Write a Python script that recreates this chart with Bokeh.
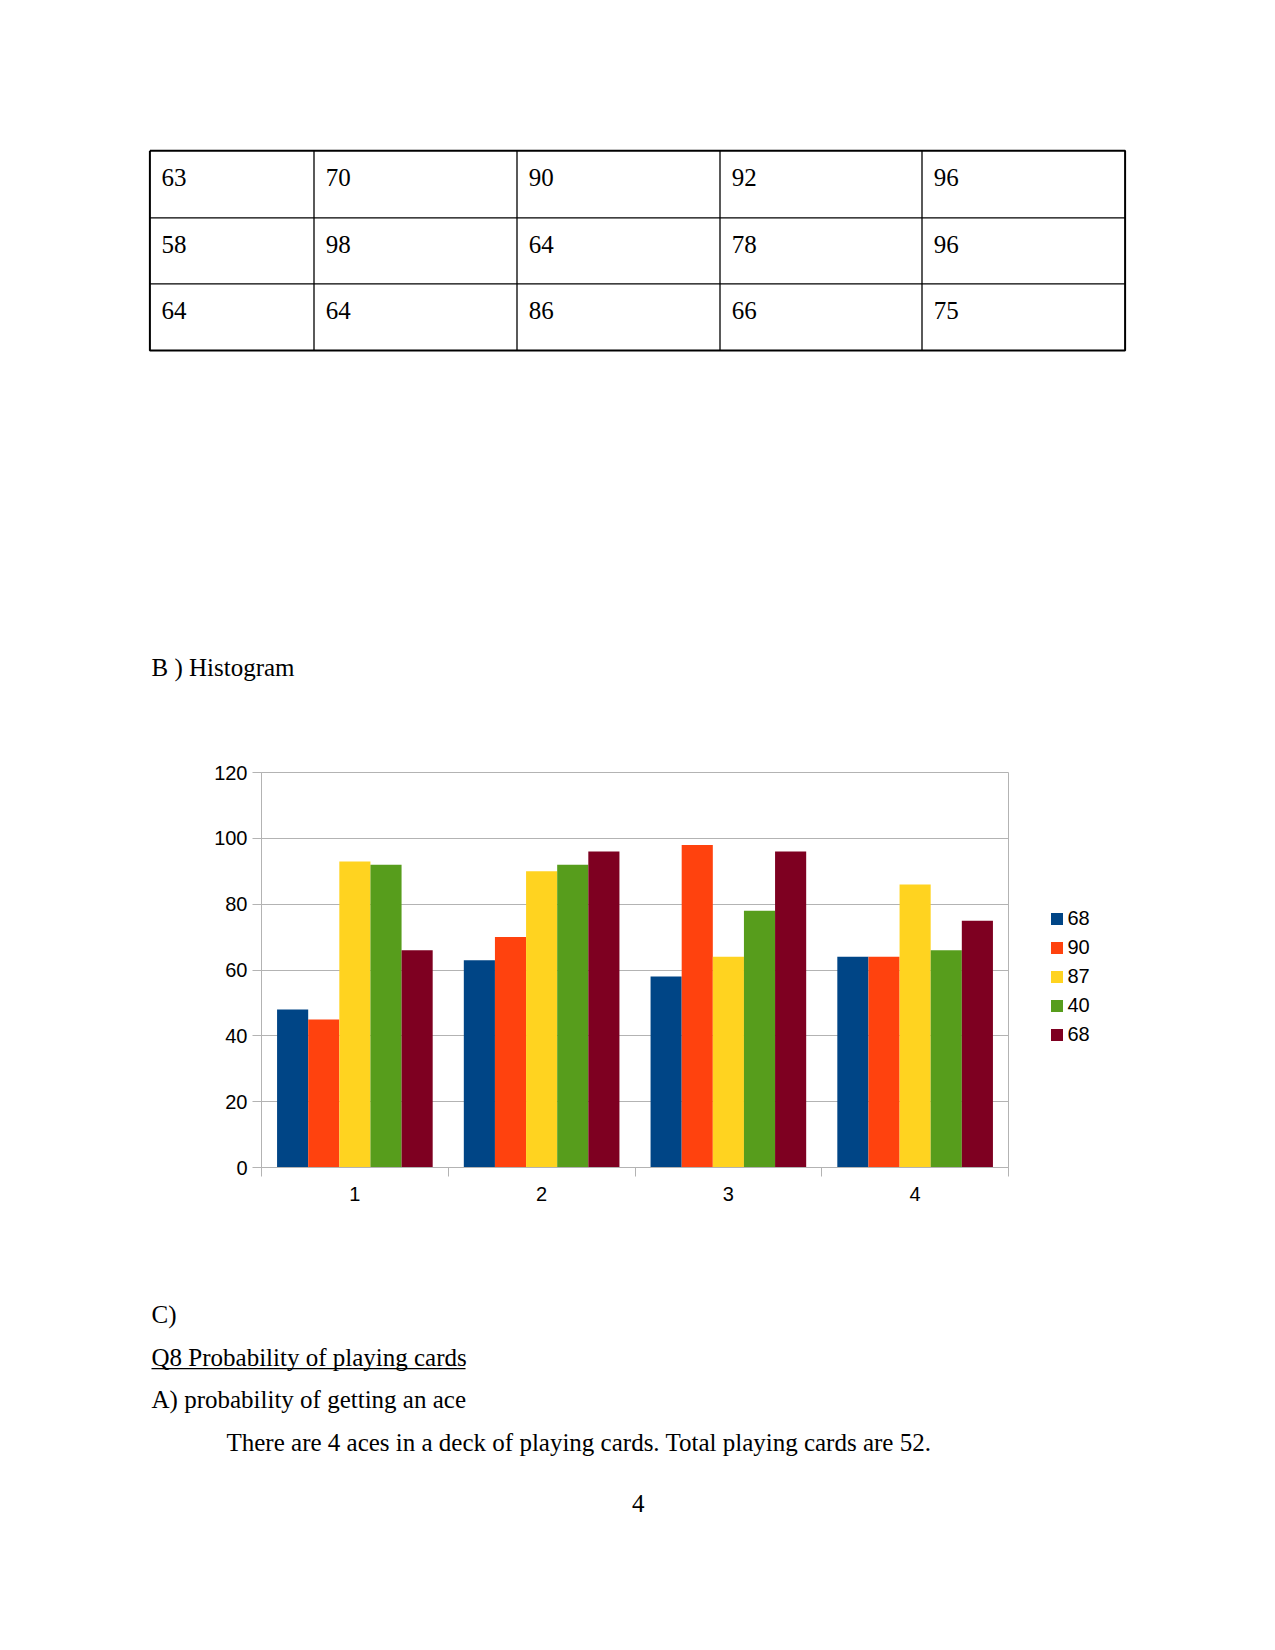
from bokeh.plotting import figure
from bokeh.models import Range1d, FixedTicker, Legend, LegendItem, ColumnDataSource
from bokeh.layouts import column, row
from bokeh.transform import dodge
from bokeh.core.properties import value
from bokeh.embed import file_html
from bokeh.resources import INLINE

# ---------------- data ----------------
table_row1 = [63, 70, 90, 92, 96]
table_row2 = [58, 98, 64, 78, 96]
table_row3 = [64, 64, 86, 66, 75]

categories = [1, 2, 3, 4]
category_labels = ["1", "2", "3", "4"]
series_names = ["68", "90", "87", "40", "68"]
series_1 = [48, 63, 58, 64]
series_2 = [45, 70, 98, 64]
series_3 = [93, 90, 64, 86]
series_4 = [92, 92, 78, 66]
series_5 = [66, 96, 96, 75]
series_colors = ["#004586", "#ff420e", "#ffd320", "#579d1c", "#7e0021"]
y_ticks = [0, 20, 40, 60, 80, 100, 120]

heading_b = "B ) Histogram"
text_lines = ["C)", "Q8 Probability of playing cards", "A) probability of getting an ace",
              "There are 4 aces in a deck of playing cards. Total playing cards are 52."]
page_number = "4"

SERIF = value("Liberation Serif")
SANS = "Liberation Sans"
PAGE_W = 1275
TDY = -9  # baseline correction for text glyphs


def page_fig(y0, y1):
    p = figure(width=PAGE_W, height=y1 - y0, x_range=Range1d(0, PAGE_W),
               y_range=Range1d(y1, y0), output_backend="svg", toolbar_location=None,
               x_axis_location=None, y_axis_location=None,
               min_border_left=0, min_border_right=0, min_border_top=0, min_border_bottom=0)
    p.xgrid.visible = False
    p.ygrid.visible = False
    p.outline_line_color = None
    return p


# ---------------- top part: table + heading ----------------
top = page_fig(0, 700)
col_edges = [149.4, 313.5, 516.5, 719.5, 921.5, 1124.6]
row_edges = [150.3, 217.3, 283.3, 350.0]

for x in col_edges[1:-1]:
    top.line([x, x], [row_edges[0], row_edges[-1]], line_color="black", line_width=1.3)
for y in row_edges[1:-1]:
    top.line([col_edges[0], col_edges[-1]], [y, y], line_color="black", line_width=1.3)
top.line([col_edges[0], col_edges[-1], col_edges[-1], col_edges[0], col_edges[0]],
         [row_edges[0], row_edges[0], row_edges[-1], row_edges[-1], row_edges[0]],
         line_color="black", line_width=2)

cell_x, cell_y, cell_t = [], [], []
for r, vals in enumerate([table_row1, table_row2, table_row3]):
    for c, v in enumerate(vals):
        cell_x.append(col_edges[c] + 11.7)
        cell_y.append(row_edges[r] + 35.5 + TDY)
        cell_t.append(str(v))
top.text(x=cell_x, y=cell_y, text=cell_t, text_font=SERIF, text_font_size="25px",
         text_baseline="alphabetic", text_align="left", text_color="black")
top.text(x=[151], y=[676 + TDY], text=[heading_b], text_font=SERIF, text_font_size="25px",
         text_baseline="alphabetic", text_align="left", text_color="black")

# ---------------- chart ----------------
CHART_W = 1010
chart = figure(width=CHART_W, height=520, x_range=Range1d(0.5, 4.5), y_range=Range1d(0, 120),
               output_backend="svg", toolbar_location=None,
               min_border_left=261, min_border_right=2, min_border_top=72, min_border_bottom=53)
chart.outline_line_color = "#b3b3b3"

src = ColumnDataSource(dict(cat=categories, s1=series_1, s2=series_2, s3=series_3,
                            s4=series_4, s5=series_5))
series_keys = ["s1", "s2", "s3", "s4", "s5"]
bw = 1 / 6
offsets = [-2 * bw, -bw, 0, bw, 2 * bw]
for i, key in enumerate(series_keys):
    chart.vbar(x=dodge("cat", offsets[i]), top=key, width=bw, bottom=0, source=src,
               fill_color=series_colors[i], line_color=None)

chart.xgrid.visible = False
chart.ygrid.ticker = FixedTicker(ticks=y_ticks)
chart.ygrid.grid_line_color = "#b3b3b3"
chart.ygrid.grid_line_width = 1

ya = chart.yaxis[0]
ya.ticker = FixedTicker(ticks=y_ticks)
ya.major_tick_out = 9
ya.major_tick_in = 0
ya.minor_tick_out = 0
ya.minor_tick_in = 0
ya.axis_line_color = "#b3b3b3"
ya.major_tick_line_color = "#b3b3b3"
ya.major_label_text_font = SANS
ya.major_label_text_font_size = "20px"
ya.major_label_text_color = "black"
ya.major_label_standoff = 5

xa = chart.xaxis[0]
xa.ticker = FixedTicker(ticks=categories, minor_ticks=[0.5, 1.5, 2.5, 3.5, 4.5])
xa.major_label_overrides = {c: l for c, l in zip(categories, category_labels)}
xa.major_tick_out = 0
xa.major_tick_in = 0
xa.minor_tick_out = 9
xa.minor_tick_in = 0
xa.minor_tick_line_color = "#b3b3b3"
xa.axis_line_color = "#b3b3b3"
xa.major_label_text_font = SANS
xa.major_label_text_font_size = "20px"
xa.major_label_text_color = "black"
xa.major_label_standoff = 10

# ---------------- legend panel (right of the chart) ----------------
# key renderers mirror the series but lie outside this panel's (empty) view range
legfig = figure(width=PAGE_W - CHART_W, height=520, x_range=Range1d(-3, -2),
                y_range=Range1d(0, 120), output_backend="svg", toolbar_location=None,
                x_axis_location=None, y_axis_location=None,
                min_border_left=0, min_border_right=0, min_border_top=72, min_border_bottom=53)
legfig.xgrid.visible = False
legfig.ygrid.visible = False
legfig.outline_line_color = None
key_renderers = []
for i, key in enumerate(series_keys):
    key_renderers.append(legfig.vbar(x="cat", top=key, width=bw, bottom=0, source=src,
                                     fill_color=series_colors[i], line_color=None))

legend = Legend(items=[LegendItem(label=n, renderers=[r]) for n, r in zip(series_names, key_renderers)],
                location=(38.5, 121), orientation="vertical",
                glyph_width=15, glyph_height=15, label_standoff=4, spacing=6,
                padding=0, margin=0, border_line_color=None, background_fill_alpha=0,
                label_text_font=SANS, label_text_font_size="20px", label_text_color="black")
legfig.add_layout(legend)

# ---------------- bottom part ----------------
bottom = page_fig(1220, 1640)
bottom.text(x=[151, 151, 151, 226], y=[1323.3 + TDY, 1366 + TDY, 1408.3 + TDY, 1450.7 + TDY],
            text=text_lines, text_font=SERIF, text_font_size="25px", text_baseline="alphabetic",
            text_align="left", text_color="black")
bottom.line([151, 465], [1368.2, 1368.2], line_color="black", line_width=1.3)
bottom.text(x=[637.7], y=[1511.7 + TDY], text=[page_number], text_font=SERIF,
            text_font_size="25px", text_baseline="alphabetic", text_align="center",
            text_color="black")

layout = column(top, row(chart, legfig, spacing=0), bottom, spacing=0)
open("out.html", "w").write(file_html(layout, INLINE))
